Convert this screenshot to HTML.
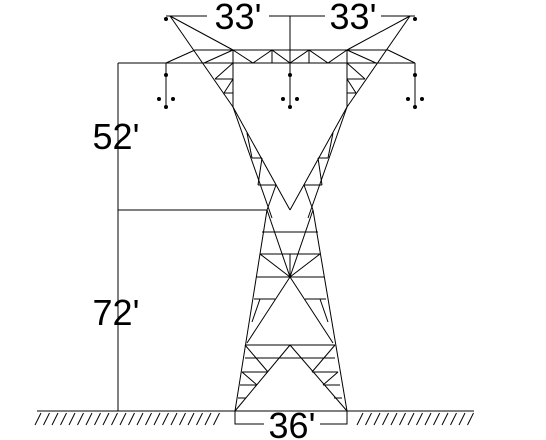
<!DOCTYPE html>
<html><head><meta charset="utf-8"><style>
html,body{margin:0;padding:0;background:#fff;}
svg{display:block;}
text{font-family:"Liberation Sans",sans-serif;font-size:36px;fill:#000;}
</style></head><body>
<svg width="546" height="440" viewBox="0 0 546 440">
<g stroke="#000" stroke-width="1" fill="none">
<g>
<line x1="37" y1="411" x2="474" y2="411"/>
<g id="hatch"></g>
</g>
<g>
<line x1="118" y1="63" x2="118" y2="411"/>
<line x1="118" y1="63" x2="166" y2="63"/>
<line x1="118" y1="210" x2="267" y2="210"/>
<polyline points="235,411 235,424 347,424 347,411"/>
<line x1="166" y1="16" x2="415" y2="16"/>
<line x1="290" y1="16" x2="290" y2="63"/>
</g>
<g>
<line x1="170" y1="16" x2="233" y2="50"/>
<line x1="410" y1="16" x2="347" y2="50"/>
<line x1="170" y1="16" x2="233" y2="107"/>
<line x1="410" y1="16" x2="347" y2="107"/>
<line x1="195" y1="50" x2="388" y2="50"/>
<line x1="150" y1="63" x2="415" y2="63"/>
<line x1="166" y1="63" x2="195" y2="50"/>
<line x1="415" y1="63" x2="388" y2="50"/>
<line x1="233" y1="50" x2="233" y2="107"/>
<line x1="347" y1="50" x2="347" y2="107"/>
<polyline points="233,50 253,63 272,50 290,63 309,50 328,63 347,50"/>
<line x1="272" y1="50" x2="272" y2="63"/>
<line x1="309" y1="50" x2="309" y2="63"/>
<line x1="204" y1="63" x2="233" y2="50"/>
<line x1="376" y1="63" x2="347" y2="50"/>
<line x1="215" y1="79" x2="233" y2="63"/>
<line x1="365" y1="79" x2="347" y2="63"/>
<line x1="215" y1="79" x2="233" y2="79"/>
<line x1="365" y1="79" x2="347" y2="79"/>
<line x1="224" y1="93" x2="233" y2="79"/>
<line x1="356" y1="93" x2="347" y2="79"/>
<line x1="224" y1="93" x2="233" y2="93"/>
<line x1="356" y1="93" x2="347" y2="93"/>
</g>
<g>
<line x1="233" y1="107" x2="290" y2="210"/>
<line x1="347" y1="107" x2="290" y2="210"/>
<line x1="233" y1="107" x2="272" y2="218"/>
<line x1="347" y1="107" x2="308" y2="218"/>
<line x1="247" y1="133" x2="252" y2="158"/>
<line x1="333" y1="133" x2="328" y2="158"/>
<line x1="252" y1="158" x2="262" y2="158"/>
<line x1="328" y1="158" x2="318" y2="158"/>
<line x1="262" y1="158" x2="258" y2="185"/>
<line x1="318" y1="158" x2="322" y2="185"/>
<line x1="258" y1="185" x2="276" y2="185"/>
<line x1="322" y1="185" x2="304" y2="185"/>
<line x1="276" y1="185" x2="267" y2="210"/>
<line x1="304" y1="185" x2="313" y2="210"/>
</g>
<g>
<line x1="267" y1="210" x2="235" y2="411"/>
<line x1="313" y1="210" x2="347" y2="411"/>
<line x1="262" y1="232" x2="318" y2="232"/>
<line x1="260" y1="254" x2="320" y2="254"/>
<line x1="256" y1="277" x2="324" y2="277"/>
<line x1="245" y1="345" x2="335" y2="345"/>
<line x1="267" y1="210" x2="290" y2="277"/>
<line x1="313" y1="210" x2="290" y2="277"/>
<line x1="290" y1="254" x2="290" y2="277"/>
<line x1="260" y1="254" x2="290" y2="277"/>
<line x1="320" y1="254" x2="290" y2="277"/>
<line x1="290" y1="277" x2="247" y2="343"/>
<line x1="290" y1="277" x2="333" y2="343"/>
<line x1="235" y1="411" x2="290" y2="345"/>
<line x1="347" y1="411" x2="290" y2="345"/>
<line x1="254" y1="299" x2="275" y2="299"/>
<line x1="326" y1="299" x2="305" y2="299"/>
<line x1="252" y1="322" x2="260" y2="299"/>
<line x1="328" y1="322" x2="320" y2="299"/>
<line x1="245" y1="358" x2="335" y2="358"/>
<line x1="242" y1="372" x2="268" y2="372"/>
<line x1="338" y1="372" x2="312" y2="372"/>
<line x1="240" y1="385" x2="257" y2="385"/>
<line x1="340" y1="385" x2="323" y2="385"/>
<line x1="238" y1="398" x2="246" y2="398"/>
<line x1="342" y1="398" x2="334" y2="398"/>
<line x1="245" y1="345" x2="268" y2="372"/>
<line x1="335" y1="345" x2="312" y2="372"/>
<line x1="242" y1="372" x2="257" y2="385"/>
<line x1="338" y1="372" x2="323" y2="385"/>
</g>
<g>
<line x1="166" y1="63" x2="166" y2="107"/>
<line x1="290" y1="63" x2="290" y2="107"/>
<line x1="415" y1="63" x2="415" y2="107"/>
</g>
</g>
<g fill="#000">
<circle cx="166" cy="19" r="2"/><circle cx="415" cy="19" r="2"/>
<circle cx="166" cy="75" r="2"/><circle cx="290" cy="75" r="2"/><circle cx="415" cy="75" r="2"/>
<circle cx="166" cy="107" r="2"/><circle cx="290" cy="107" r="2"/><circle cx="415" cy="107" r="2"/>
<circle cx="159" cy="99" r="2"/><circle cx="173" cy="99" r="2"/>
<circle cx="283" cy="99" r="2"/><circle cx="297" cy="99" r="2"/>
<circle cx="408" cy="99" r="2"/><circle cx="422" cy="99" r="2"/>
</g>
<rect x="207" y="2" width="62" height="28" fill="#fff"/>
<rect x="325" y="2" width="56" height="28" fill="#fff"/>
<rect x="264" y="414" width="56" height="26" fill="#fff"/>
<text x="238" y="29" text-anchor="middle">33'</text>
<text x="353" y="29" text-anchor="middle">33'</text>
<text x="116" y="149" text-anchor="middle">52'</text>
<text x="116" y="325" text-anchor="middle">72'</text>
<text x="292" y="438" text-anchor="middle">36'</text>
</svg>
<script>
var g=document.getElementById('hatch');
function hatch(a,b){for(var x=a;x<b;x+=8.5){var l=document.createElementNS('http://www.w3.org/2000/svg','line');


l.setAttribute('x1',x+6);l.setAttribute('y1',413);l.setAttribute('x2',x);l.setAttribute('y2',425);g.appendChild(l);}}
hatch(35,222);hatch(357,474);
</script>
</body></html>
